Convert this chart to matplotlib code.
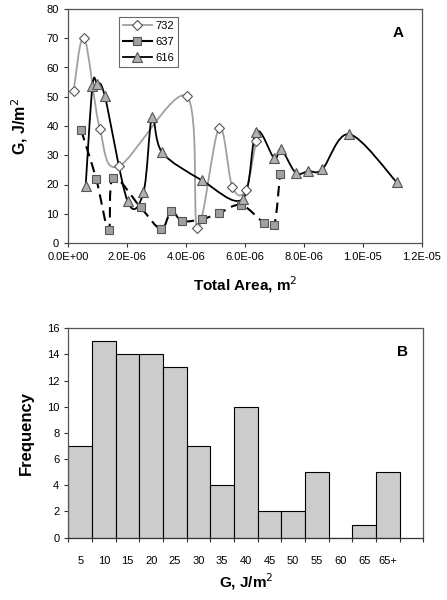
import numpy as np
import matplotlib
matplotlib.use("Agg")
import matplotlib.pyplot as plt
from matplotlib.path import Path
from matplotlib.patches import PathPatch
from matplotlib.lines import Line2D

plt.rcParams['font.family'] = ['Liberation Sans', 'DejaVu Sans']

# panel A data (total area in m^2, G in J/m^2)
area_732 = [0.19e-6, 0.55e-6, 1.08e-6, 1.72e-6, 4.02e-6, 4.39e-6, 5.12e-6, 5.57e-6, 6.02e-6, 6.38e-6]
g_732 = [51.8, 70.2, 39.0, 26.2, 50.2, 5.1, 39.3, 19.2, 18.0, 35.0]

area_637 = [0.45e-6, 0.96e-6, 1.38e-6, 1.53e-6, 2.46e-6, 3.15e-6, 3.50e-6, 3.88e-6,
            4.56e-6, 5.12e-6, 5.87e-6, 6.63e-6, 6.99e-6, 7.19e-6]
g_637 = [38.5, 21.8, 4.4, 22.3, 12.2, 4.8, 10.8, 7.5, 8.2, 10.2, 13.0, 7.0, 6.1, 23.6]

area_616 = [0.60e-6, 0.83e-6, 0.99e-6, 1.25e-6, 2.02e-6, 2.56e-6, 2.85e-6, 3.19e-6, 4.53e-6,
            5.92e-6, 6.38e-6, 6.99e-6, 7.23e-6, 7.72e-6, 8.15e-6, 8.62e-6, 9.54e-6, 11.15e-6]
g_616 = [19.5, 53.6, 54.4, 50.2, 14.3, 17.3, 43.0, 31.0, 21.5,
         15.0, 38.0, 29.0, 32.0, 24.0, 24.6, 25.2, 37.2, 20.7]

# panel B data
bins = ['5', '10', '15', '20', '25', '30', '35', '40', '45', '50', '55', '60', '65', '65+']
freq = [7, 15, 14, 14, 13, 7, 4, 10, 2, 2, 5, 0, 1, 5]


def smooth_path(xs, ys):
    # Excel-like smoothed line: cubic Bezier through points (Catmull-Rom control points)
    p = np.column_stack([xs, ys])
    ext = np.vstack([p[0], p, p[-1]])
    verts = [p[0]]
    codes = [Path.MOVETO]
    for i in range(1, len(ext) - 2):
        c1 = ext[i] + (ext[i + 1] - ext[i - 1]) / 6
        c2 = ext[i + 1] - (ext[i + 2] - ext[i]) / 6
        verts += [c1, c2, ext[i + 1]]
        codes += [Path.CURVE4] * 3
    return Path(verts, codes)


fig = plt.figure(figsize=(4.47, 6.0), dpi=100)

# ---------- panel A ----------
ax = fig.add_axes([0.152, 0.595, 0.792, 0.39])
ax.add_patch(PathPatch(smooth_path(area_732, g_732), fill=False, ec='#a0a0a0', lw=1.3, zorder=2))
ax.add_patch(PathPatch(smooth_path(area_637, g_637), fill=False, ec='black', lw=1.5,
                       ls=(0, (5, 3)), zorder=2))
ax.add_patch(PathPatch(smooth_path(area_616, g_616), fill=False, ec='black', lw=1.3, zorder=2))

ax.plot(area_732, g_732, ls='none', marker='D', ms=5.5, mfc='white', mec='#555555', mew=0.8, zorder=3)
ax.plot(area_637, g_637, ls='none', marker='s', ms=6, mfc='#a0a0a0', mec='#555555', mew=0.8, zorder=3)
ax.plot(area_616, g_616, ls='none', marker='^', ms=7, mfc='#b0b0b0', mec='#555555', mew=0.8, zorder=3)

ax.set_xlim(0, 1.2e-5)
ax.set_ylim(0, 80)
ax.set_xticks(np.arange(0, 1.21e-5, 2e-6))
ax.set_xticklabels(['%.1E' % v for v in np.arange(0, 1.21e-5, 2e-6)])
ax.set_yticks(range(0, 81, 10))
ax.tick_params(labelsize=8, direction='out', length=3, width=0.8, colors='#333333', labelcolor='black')
for s in ax.spines.values():
    s.set_color('#555555')
    s.set_linewidth(0.9)
ax.set_xlabel('Total Area, m$^2$', fontsize=11, fontweight='bold', labelpad=9)
ax.set_ylabel('G, J/m$^2$', fontsize=11.5, fontweight='bold', labelpad=12)
ax.text(0.932, 0.897, 'A', transform=ax.transAxes, fontsize=11, fontweight='bold', ha='center', va='center')

handles = [
    Line2D([], [], color='#a0a0a0', lw=1.3, marker='D', ms=5, mfc='white', mec='#555555', mew=0.8),
    Line2D([], [], color='black', lw=1.5, marker='s', ms=5.5, mfc='#a0a0a0', mec='#555555', mew=0.8),
    Line2D([], [], color='black', lw=1.3, marker='^', ms=6.5, mfc='#b0b0b0', mec='#555555', mew=0.8),
]
leg = ax.legend(handles, ['732', '637', '616'], loc='upper left', bbox_to_anchor=(0.144, 0.965),
                borderaxespad=0, fontsize=8, frameon=True, fancybox=False, edgecolor='#444444',
                handlelength=2.6, handletextpad=0.3, borderpad=0.35, labelspacing=0.55)
leg.get_frame().set_linewidth(0.8)

# ---------- panel B ----------
bx = fig.add_axes([0.153, 0.104, 0.794, 0.349])
pos = np.arange(len(bins)) + 0.5
bx.bar(pos, freq, width=1.0, color='#cccccc', edgecolor='black', linewidth=0.8)
bx.set_xlim(0, len(bins) + 1)
bx.set_ylim(0, 16)
bx.set_yticks(range(0, 17, 2))
bx.set_xticks(range(0, len(bins) + 2))
bx.set_xticklabels([])
bx.set_xticks(pos, minor=True)
bx.set_xticklabels(bins, minor=True)
bx.tick_params(axis='x', which='minor', length=0, pad=13, labelsize=8)
bx.tick_params(axis='both', which='major', labelsize=8, direction='out', length=3, width=0.8, colors='#333333',
               labelcolor='black')
for s in bx.spines.values():
    s.set_color('#555555')
    s.set_linewidth(0.9)
bx.spines['bottom'].set_color('#333333')
bx.set_xlabel('G, J/m$^2$', fontsize=11, fontweight='bold', labelpad=4)
bx.set_ylabel('Frequency', fontsize=12, fontweight='bold', labelpad=9)
bx.text(0.94, 0.885, 'B', transform=bx.transAxes, fontsize=11, fontweight='bold', ha='center', va='center')

fig.savefig('out.png', dpi=100)
